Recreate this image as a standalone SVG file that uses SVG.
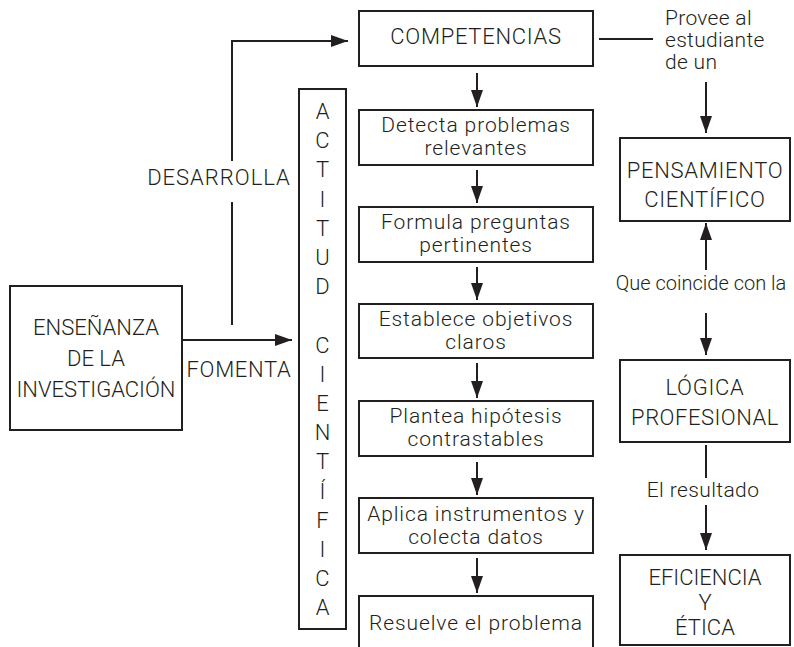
<svg xmlns="http://www.w3.org/2000/svg" width="794" height="647" viewBox="0 0 794 647">
<defs>
<marker id="ah" viewBox="0 0 17 12" markerWidth="17" markerHeight="12" refX="17" refY="6" orient="auto" markerUnits="userSpaceOnUse">
<path d="M0,0 L17,6 L0,12 z" fill="#231f20"/>
</marker>
<style>
.box{fill:#fff;stroke:#231f20;stroke-width:2}
.ln{fill:none;stroke:#231f20;stroke-width:2}
.arr{fill:none;stroke:#231f20;stroke-width:2;marker-end:url(#ah)}
text{font-family:Roboto,"Liberation Sans",Arial,sans-serif;font-weight:300;font-size:22px;fill:#231f20}
.c{text-anchor:middle}
.cap{letter-spacing:0.7px}
.lc{font-size:21px;letter-spacing:0.9px}
</style>
</defs>
<rect width="794" height="647" fill="#fff"/>

<g id="connectors">
<path class="ln" d="M232,325 V202"/>
<path class="arr" d="M232,161 V41 H348"/>
<path class="arr" d="M182,340 H292"/>
<path class="arr" d="M477,73 V107"/>
<path class="arr" d="M477,170 V203"/>
<path class="arr" d="M477,267 V300"/>
<path class="arr" d="M477,363 V398"/>
<path class="arr" d="M477,462 V495"/>
<path class="arr" d="M477,558 V593"/>
<path class="ln" d="M599,39 H653"/>
<path class="arr" d="M706,82 V133"/>
<path class="arr" d="M706,270 V223"/>
<path class="arr" d="M706,313 V355"/>
<path class="ln" d="M706,445 V478"/>
<path class="arr" d="M706,505 V550"/>
<text class="c cap" x="219" y="185" style="letter-spacing:1px">DESARROLLA</text>
<text class="c cap" x="239" y="377">FOMENTA</text>
<text x="665" y="25" style="font-size:21px;letter-spacing:0.3px">Provee al</text>
<text x="665" y="47" style="font-size:21px;letter-spacing:0.3px">estudiante</text>
<text x="665" y="69" style="font-size:21px;letter-spacing:0.3px">de un</text>
<text class="c" x="701" y="290" style="font-size:20px">Que coincide con la</text>
<text class="c" x="703" y="497" style="font-size:21px;letter-spacing:0.4px">El resultado</text>
</g>

<g id="ensenanza">
<rect class="box" x="10" y="286" width="172" height="144"/>
<text class="c" x="96" y="335">ENSEÑANZA</text>
<text class="c" x="96" y="366">DE LA</text>
<text class="c" x="96" y="397">INVESTIGACIÓN</text>
</g>

<g id="actitud">
<rect class="box" x="299" y="89" width="47" height="540"/>
<text class="c" x="322.5" y="119">A</text>
<text class="c" x="322.5" y="148.2">C</text>
<text class="c" x="322.5" y="177.4">T</text>
<text class="c" x="322.5" y="206.6">I</text>
<text class="c" x="322.5" y="235.8">T</text>
<text class="c" x="322.5" y="265">U</text>
<text class="c" x="322.5" y="294.2">D</text>
<text class="c" x="322.5" y="352.6">C</text>
<text class="c" x="322.5" y="381.8">I</text>
<text class="c" x="322.5" y="411">E</text>
<text class="c" x="322.5" y="440.2">N</text>
<text class="c" x="322.5" y="469.4">T</text>
<text class="c" x="322.5" y="498.6">Í</text>
<text class="c" x="322.5" y="527.8">F</text>
<text class="c" x="322.5" y="557">I</text>
<text class="c" x="322.5" y="586.2">C</text>
<text class="c" x="322.5" y="615.4">A</text>
</g>

<g id="competencias">
<rect class="box" x="359" y="11" width="234" height="55"/>
<text class="c cap" x="476" y="44">COMPETENCIAS</text>
</g>
<g id="detecta">
<rect class="box" x="359" y="110" width="234" height="55"/>
<text class="c lc" x="476" y="132">Detecta problemas</text>
<text class="c lc" x="476" y="155">relevantes</text>
</g>
<g id="formula">
<rect class="box" x="359" y="207" width="234" height="55"/>
<text class="c lc" x="476" y="229">Formula preguntas</text>
<text class="c lc" x="476" y="252">pertinentes</text>
</g>
<g id="establece">
<rect class="box" x="359" y="304" width="234" height="54"/>
<text class="c lc" x="476" y="326">Establece objetivos</text>
<text class="c lc" x="476" y="349">claros</text>
</g>
<g id="plantea">
<rect class="box" x="359" y="401" width="234" height="55"/>
<text class="c lc" x="476" y="423">Plantea hipótesis</text>
<text class="c lc" x="476" y="446">contrastables</text>
</g>
<g id="aplica">
<rect class="box" x="359" y="498" width="234" height="55"/>
<text class="c lc" x="476" y="521">Aplica instrumentos y</text>
<text class="c lc" x="476" y="544">colecta datos</text>
</g>
<g id="resuelve">
<rect class="box" x="359" y="596" width="234" height="70"/>
<text class="c lc" x="476" y="630">Resuelve el problema</text>
</g>

<g id="pensamiento">
<rect class="box" x="620" y="138" width="170" height="83"/>
<text class="c cap" x="705" y="178">PENSAMIENTO</text>
<text class="c cap" x="705" y="207">CIENTÍFICO</text>
</g>
<g id="logica">
<rect class="box" x="620" y="360" width="170" height="82"/>
<text class="c cap" x="705" y="395">LÓGICA</text>
<text class="c" x="705" y="425" style="letter-spacing:0.5px">PROFESIONAL</text>
</g>
<g id="eficiencia">
<rect class="box" x="620" y="555" width="170" height="90"/>
<text class="c" x="705" y="585">EFICIENCIA</text>
<text class="c" x="705" y="610">Y</text>
<text class="c" x="705" y="635">ÉTICA</text>
</g>
</svg>
